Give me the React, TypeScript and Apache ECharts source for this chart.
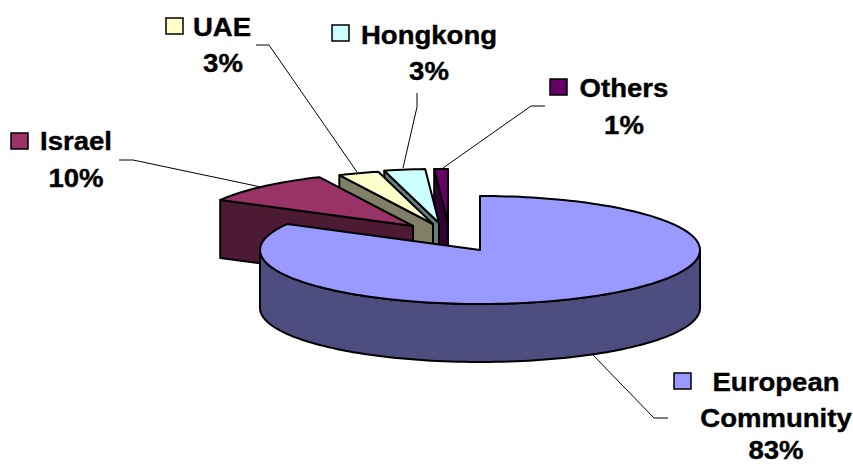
import React, { useEffect, useRef } from "react";
import * as echarts from "echarts";

const categories = ["European Community", "Israel", "UAE", "Hongkong", "Others"];
const shares = [83, 10, 3, 3, 1];
const topColors = ["#9999FF", "#993366", "#FFFFCC", "#CCFFFF", "#660066"];
const wallColors = ["#4D4D80", "#4D1A33", "#808066", "#668080", "#330033"];
// how far each slice is pulled out of the pie, in pixels
const pullX = [0, -67, -47, -41, -32];
const pullY = [0, -24, -26, -27, -27];

const CX = 480;
const CY = 250;
const RX = 220;
const RY = 54;
const DEPTH = 58;
const FONT = "'Liberation Sans', Arial, sans-serif";
const STRETCH = 1.06;

const total = shares.reduce((a, b) => a + b, 0);
const startAngles: number[] = [];
shares.reduce((acc, v, i) => {
  startAngles[i] = acc;
  return acc + (v / total) * 2 * Math.PI;
}, 0);

function rim(a: number, dx: number, dy: number): [number, number] {
  return [CX + dx + RX * Math.sin(a), CY + dy - RY * Math.cos(a)];
}

function arcPoints(a0: number, a1: number, dx: number, dy: number, down = 0) {
  const n = Math.max(2, Math.ceil(Math.abs(a1 - a0) / 0.03));
  const pts: [number, number][] = [];
  for (let k = 0; k <= n; k++) {
    const p = rim(a0 + ((a1 - a0) * k) / n, dx, dy);
    pts.push([p[0], p[1] + down]);
  }
  return pts;
}

function renderSlice(_: any, api: any) {
  const i = api.value(0);
  const a0 = startAngles[i];
  const a1 = a0 + (shares[i] / total) * 2 * Math.PI;
  const dx = pullX[i];
  const dy = pullY[i];
  const apex: [number, number] = [CX + dx, CY + dy];
  const line = { stroke: "#000", lineWidth: 2, lineJoin: "round" };
  const children: any[] = [];
  if (i === 0) {
    // curved outer wall, front half only
    const front = arcPoints(Math.PI / 2, (3 * Math.PI) / 2, dx, dy);
    const frontLow = arcPoints((3 * Math.PI) / 2, Math.PI / 2, dx, dy, DEPTH);
    children.push({
      type: "polygon",
      shape: { points: [...front, ...frontLow] },
      style: { fill: wallColors[i], ...line },
    });
  } else {
    // cut face on the left of the slice
    const p = rim(a0, dx, dy);
    children.push({
      type: "polygon",
      shape: {
        points: [p, apex, [apex[0], apex[1] + DEPTH], [p[0], p[1] + DEPTH]],
      },
      style: { fill: wallColors[i], ...line },
    });
  }
  children.push({
    type: "polygon",
    shape: { points: [apex, ...arcPoints(a0, a1, dx, dy)] },
    style: { fill: topColors[i], ...line },
  });
  return { type: "group", children };
}

// Label layout: key box, text lines and leader line for each category
const keyBoxes = [
  [674, 373],
  [11, 133],
  [166, 18],
  [332, 25],
  [550, 79],
];
const nameLines = [["European", "Community"], ["Israel"], ["UAE"], ["Hongkong"], ["Others"]];
const nameCenters = [
  [776, 382],
  [76, 141],
  [222, 27],
  [429, 35],
  [624, 88],
];
const lineGap = [36, 0, 0, 0, 0];
const percentCenters = [
  [776, 450],
  [76, 178],
  [223, 63],
  [429, 71],
  [624, 125],
];
const leaders = [
  [[668, 418], [654, 418], [592, 354]],
  [[119, 160], [133, 160], [261, 187]],
  [[256, 45], [269, 45], [357, 172]],
  [[417, 93], [417, 107], [403, 168]],
  [[545, 106], [531, 106], [443, 168]],
];

function textEl(text: string, x: number, y: number) {
  return {
    type: "text",
    x,
    y,
    scaleX: STRETCH,
    z: 20,
    style: {
      text,
      fill: "#000",
      stroke: "#000",
      lineWidth: 0.4,
      fontFamily: FONT,
      fontWeight: "bold",
      fontSize: 26,
      textAlign: "center",
      textVerticalAlign: "middle",
    },
  };
}

function labelGraphics() {
  const out: any[] = [];
  categories.forEach((_, i) => {
    out.push({
      type: "polyline",
      z: 10,
      shape: { points: leaders[i] },
      style: { stroke: "#000", lineWidth: 1, fill: "none" },
    });
    out.push({
      type: "rect",
      z: 20,
      shape: { x: keyBoxes[i][0], y: keyBoxes[i][1], width: 17, height: 16 },
      style: { fill: topColors[i], stroke: "#000", lineWidth: 1.5 },
    });
    nameLines[i].forEach((t, k) => {
      out.push(textEl(t, nameCenters[i][0], nameCenters[i][1] + k * lineGap[i]));
    });
    out.push(
      textEl(
        `${Math.round((shares[i] / total) * 100)}%`,
        percentCenters[i][0],
        percentCenters[i][1]
      )
    );
  });
  return out;
}

export default function App() {
  const ref = useRef<HTMLDivElement>(null);
  useEffect(() => {
    document.body.style.margin = "0";
    const chart = echarts.init(ref.current!, undefined, { renderer: "svg" });
    chart.setOption({
      animation: false,
      backgroundColor: "#fff",
      graphic: { elements: labelGraphics() },
      series: [
        {
          type: "custom",
          coordinateSystem: "none",
          renderItem: renderSlice,
          silent: true,
          // painted back to front: the big slice comes last
          data: [4, 3, 2, 1, 0].map((i) => [i, shares[i]]),
          encode: { itemName: 0 },
          z: 5,
        },
      ],
    });
    return () => chart.dispose();
  }, []);
  return <div ref={ref} style={{ width: 853, height: 464, overflow: "hidden" }} />;
}
